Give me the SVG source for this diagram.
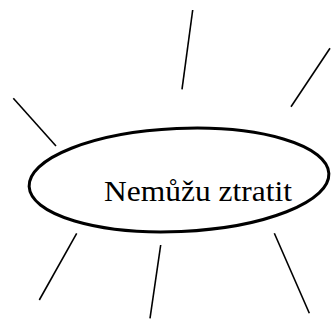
<svg xmlns="http://www.w3.org/2000/svg" width="331" height="320" viewBox="0 0 331 320">
<style>
.ray{stroke:#000;stroke-width:1.6;fill:none;stroke-linecap:butt}
.oval{stroke:#000;stroke-width:3;fill:#fff}
.lbl{font-family:"Liberation Serif","Times New Roman",serif;font-size:29px;fill:#000}
</style>
<rect width="331" height="320" fill="#fff"/>
<g id="connectors">
<line class="ray" x1="192.7" y1="10" x2="182" y2="89.3"/>
<line class="ray" x1="330" y1="48.3" x2="291" y2="106.7"/>
<line class="ray" x1="13.3" y1="98.3" x2="56" y2="146"/>
<line class="ray" x1="76.7" y1="233.3" x2="39.3" y2="300"/>
<line class="ray" x1="160.7" y1="245" x2="150" y2="318.3"/>
<line class="ray" x1="274.3" y1="233.3" x2="309.3" y2="313.3"/>
</g>
<g id="node-center">
<ellipse class="oval" cx="179" cy="180" rx="150" ry="51.5" transform="rotate(-2.5 179 180)"/>
<text class="lbl" x="104" y="201" textLength="188" lengthAdjust="spacingAndGlyphs">Nemůžu ztratit</text>
</g>
</svg>
